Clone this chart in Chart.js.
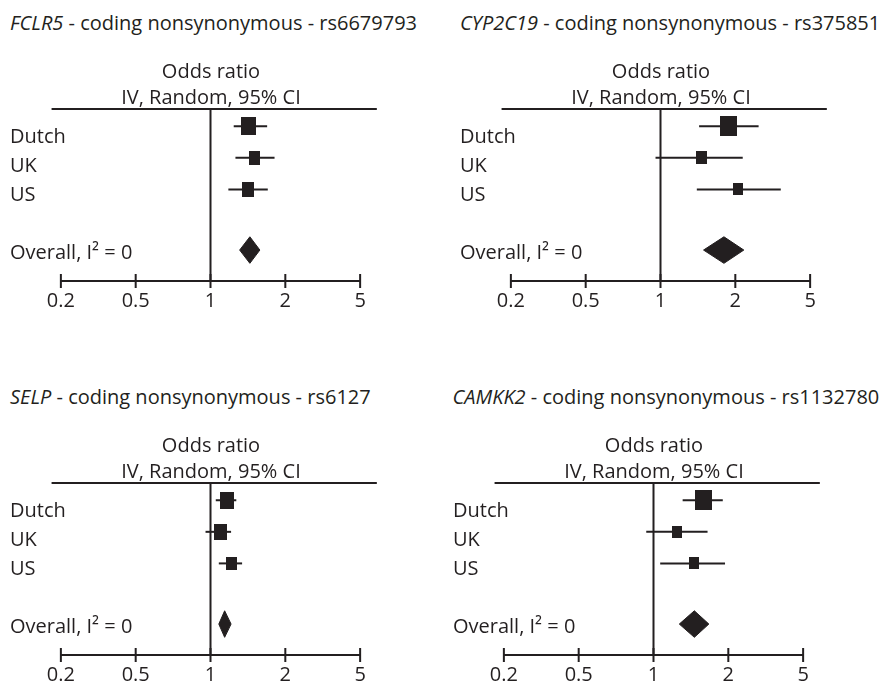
<!DOCTYPE html>
<html><head><meta charset="utf-8">
<script src="https://cdn.jsdelivr.net/npm/chart.js@4.4.1/dist/chart.umd.min.js"></script>
<style>
html,body{margin:0;padding:0;background:#fff;overflow:hidden;width:895px;height:683px}
.ttl{position:absolute;font-family:'Open Sans',sans-serif;font-size:20px;line-height:24px;color:#231f20;white-space:nowrap}
canvas{position:absolute}
</style></head><body>
<script>
// ---------------- data ----------------
const TICK_VALUES = [0.2, 0.5, 1, 2, 5];
const TICK_LABELS = ['0.2', '0.5', '1', '2', '5'];
const STUDIES = ['Dutch', 'UK', 'US'];
const OVERALL_LABEL = 'Overall, I\u00b2 = 0';
const HEADER = ['Odds ratio', 'IV, Random, 95% CI'];

const GENES = ['FCLR5', 'CYP2C19', 'SELP', 'CAMKK2'];
const SNP_TEXT = ['coding nonsynonymous - rs6679793', 'coding nonsynonymous - rs375851',
                  'coding nonsynonymous - rs6127', 'coding nonsynonymous - rs1132780'];

// odds ratios, 95% CI bounds and weights (%) per study: Dutch, UK, US
const FCLR5_OR = [1.42, 1.50, 1.41];
const FCLR5_LO = [1.24, 1.26, 1.18];
const FCLR5_HI = [1.69, 1.81, 1.70];
const FCLR5_W  = [44, 26, 30];
const FCLR5_POOLED = [1.44, 1.31, 1.58];   // estimate, low, high

const CYP2C19_OR = [1.88, 1.46, 2.07];
const CYP2C19_LO = [1.43, 0.955, 1.40];
const CYP2C19_HI = [2.66, 2.19, 3.49];
const CYP2C19_W  = [57, 22, 21];
const CYP2C19_POOLED = [1.80, 1.49, 2.22];

const SELP_OR = [1.16, 1.10, 1.21];
const SELP_LO = [1.05, 0.955, 1.08];
const SELP_HI = [1.27, 1.21, 1.34];
const SELP_W  = [40, 36, 24];
const SELP_POOLED = [1.14, 1.08, 1.21];

const CAMKK2_OR = [1.59, 1.245, 1.46];
const CAMKK2_LO = [1.31, 0.935, 1.064];
const CAMKK2_HI = [1.90, 1.65, 1.94];
const CAMKK2_W  = [58, 21, 21];
const CAMKK2_POOLED = [1.46, 1.27, 1.67];

// ---------------- styling / layout ----------------
const INK = '#231f20';
const FONT = {family: "'Open Sans', sans-serif", size: 20, weight: 'normal'};
const PANEL_OFFSETS = [[0, 0], [450, 0], [0, 373.5], [442.5, 373.5]];
const MARK_ROWS = [0, 1, 2, 3.92];      // rows of Dutch, UK, US, Overall markers
const LABEL_ROWS = [0, 1, 2, 4];
const DIAMOND_HALF = 0.42;
const BOX_SCALE = 2.44;

const panels = [
  {or: FCLR5_OR, lo: FCLR5_LO, hi: FCLR5_HI, w: FCLR5_W, pooled: FCLR5_POOLED},
  {or: CYP2C19_OR, lo: CYP2C19_LO, hi: CYP2C19_HI, w: CYP2C19_W, pooled: CYP2C19_POOLED},
  {or: SELP_OR, lo: SELP_LO, hi: SELP_HI, w: SELP_W, pooled: SELP_POOLED},
  {or: CAMKK2_OR, lo: CAMKK2_LO, hi: CAMKK2_HI, w: CAMKK2_W, pooled: CAMKK2_POOLED}
];

// position on an axis whose ticks 0.2,0.5,1,2,5 are equally spaced (log within each interval)
function toPos(v) {
  const t = TICK_VALUES; let i = 0;
  while (i < t.length - 2 && v > t[i + 1]) i++;
  return i - (t.length - 1) / 2 + Math.log(v / t[i]) / Math.log(t[i + 1] / t[i]);
}
function box(weight) {
  const s = BOX_SCALE * Math.sqrt(weight);
  const c = document.createElement('canvas');
  c.width = Math.round(s * 0.92); c.height = Math.round(s * 1.1);
  const g = c.getContext('2d'); g.fillStyle = INK; g.fillRect(0, 0, c.width, c.height);
  return c;
}

const frame = {
  id: 'frame',
  afterDatasetsDraw(chart) {
    const xs = chart.scales.x, a = chart.chartArea, ctx = chart.ctx;
    const x0 = xs.getPixelForValue(-2), x1 = xs.getPixelForValue(2);
    ctx.save();
    ctx.strokeStyle = INK; ctx.lineWidth = 2;
    ctx.beginPath();
    ctx.moveTo(x0 - 9.3, a.top); ctx.lineTo(x1 + 16.7, a.top);
    ctx.moveTo(x0, a.bottom); ctx.lineTo(x1, a.bottom);
    xs.ticks.forEach(t => {
      const p = xs.getPixelForValue(t.value);
      ctx.moveTo(p, a.bottom - 7); ctx.lineTo(p, a.bottom + 7);
    });
    ctx.stroke();
    ctx.restore();
  }
};

const Y_MIN = -0.546, Y_MAX = 4.90;

panels.forEach((p, k) => {
  const [dx, dy] = PANEL_OFFSETS[k];
  const t = document.createElement('div');
  t.className = 'ttl';
  t.style.left = (dx + 10) + 'px'; t.style.top = (dy + 11) + 'px';
  const it = document.createElement('i'); it.textContent = GENES[k];
  t.appendChild(it); t.appendChild(document.createTextNode(' - ' + SNP_TEXT[k]));
  document.body.appendChild(t);

  const cv = document.createElement('canvas');
  cv.width = 422; cv.height = 277;
  cv.style.left = dx + 'px'; cv.style.top = (dy + 44) + 'px';
  cv.style.width = '422px'; cv.style.height = '277px';
  document.body.appendChild(cv);

  const datasets = [];
  datasets.push({
    type: 'scatter', order: 0,
    data: STUDIES.map((s, i) => ({x: toPos(p.or[i]), y: MARK_ROWS[i]})),
    pointStyle: p.w.map(box), pointRadius: 5, clip: false
  });
  STUDIES.forEach((s, i) => datasets.push({
    type: 'scatter', order: 2, showLine: true, clip: false,
    data: [{x: toPos(p.lo[i]), y: MARK_ROWS[i]}, {x: toPos(p.hi[i]), y: MARK_ROWS[i]}],
    borderColor: INK, borderWidth: 2, pointRadius: 0
  }));
  const r = MARK_ROWS[3], [pe, pl, ph] = p.pooled;
  datasets.push({
    type: 'scatter', order: 1, showLine: true, clip: false, fill: 'shape',
    data: [{x: toPos(pl), y: r}, {x: toPos(pe), y: r - DIAMOND_HALF}, {x: toPos(ph), y: r},
           {x: toPos(pe), y: r + DIAMOND_HALF}, {x: toPos(pl), y: r}],
    borderColor: INK, backgroundColor: INK, borderWidth: 1, pointRadius: 0
  });
  datasets.push({
    type: 'scatter', order: 3, showLine: true, clip: false,
    data: [{x: toPos(1), y: Y_MIN}, {x: toPos(1), y: Y_MAX}],
    borderColor: INK, borderWidth: 2, pointRadius: 0
  });

  new Chart(cv, {
    type: 'scatter',
    data: {datasets},
    options: {
      responsive: false, animation: false, devicePixelRatio: 1, events: [],
      layout: {padding: {left: 10, right: 10, top: 0, bottom: 0}},
      plugins: {
        legend: {display: false}, tooltip: {enabled: false},
        title: {display: true, text: HEADER, color: INK,
                font: Object.assign({}, FONT, {lineHeight: 1.3}), padding: {top: 15, bottom: -2}}
      },
      scales: {
        x: {
          type: 'linear', min: -2.68, max: 2.6933,
          afterBuildTicks: s => { s.ticks = TICK_VALUES.map((v, i) => ({value: i - 2})); },
          ticks: {callback: (v, i) => TICK_LABELS[i], color: INK, font: FONT, padding: 8, autoSkip: false, maxRotation: 0},
          grid: {display: false, drawTicks: false}, border: {display: false}
        },
        y: {type: 'linear', reverse: true, min: Y_MIN, max: Y_MAX, display: false},
        yl: {
          type: 'linear', axis: 'y', position: 'left', reverse: true, min: -0.965, max: 4.955,
          afterBuildTicks: s => { s.ticks = LABEL_ROWS.map(v => ({value: v})); },
          ticks: {mirror: true, padding: 0, autoSkip: false, color: INK, font: FONT,
                  callback: (v, i) => (i < STUDIES.length ? STUDIES[i] : OVERALL_LABEL)},
          grid: {display: false, drawTicks: false}, border: {display: false}
        }
      }
    },
    plugins: [frame]
  });
});
</script>
</body></html>
